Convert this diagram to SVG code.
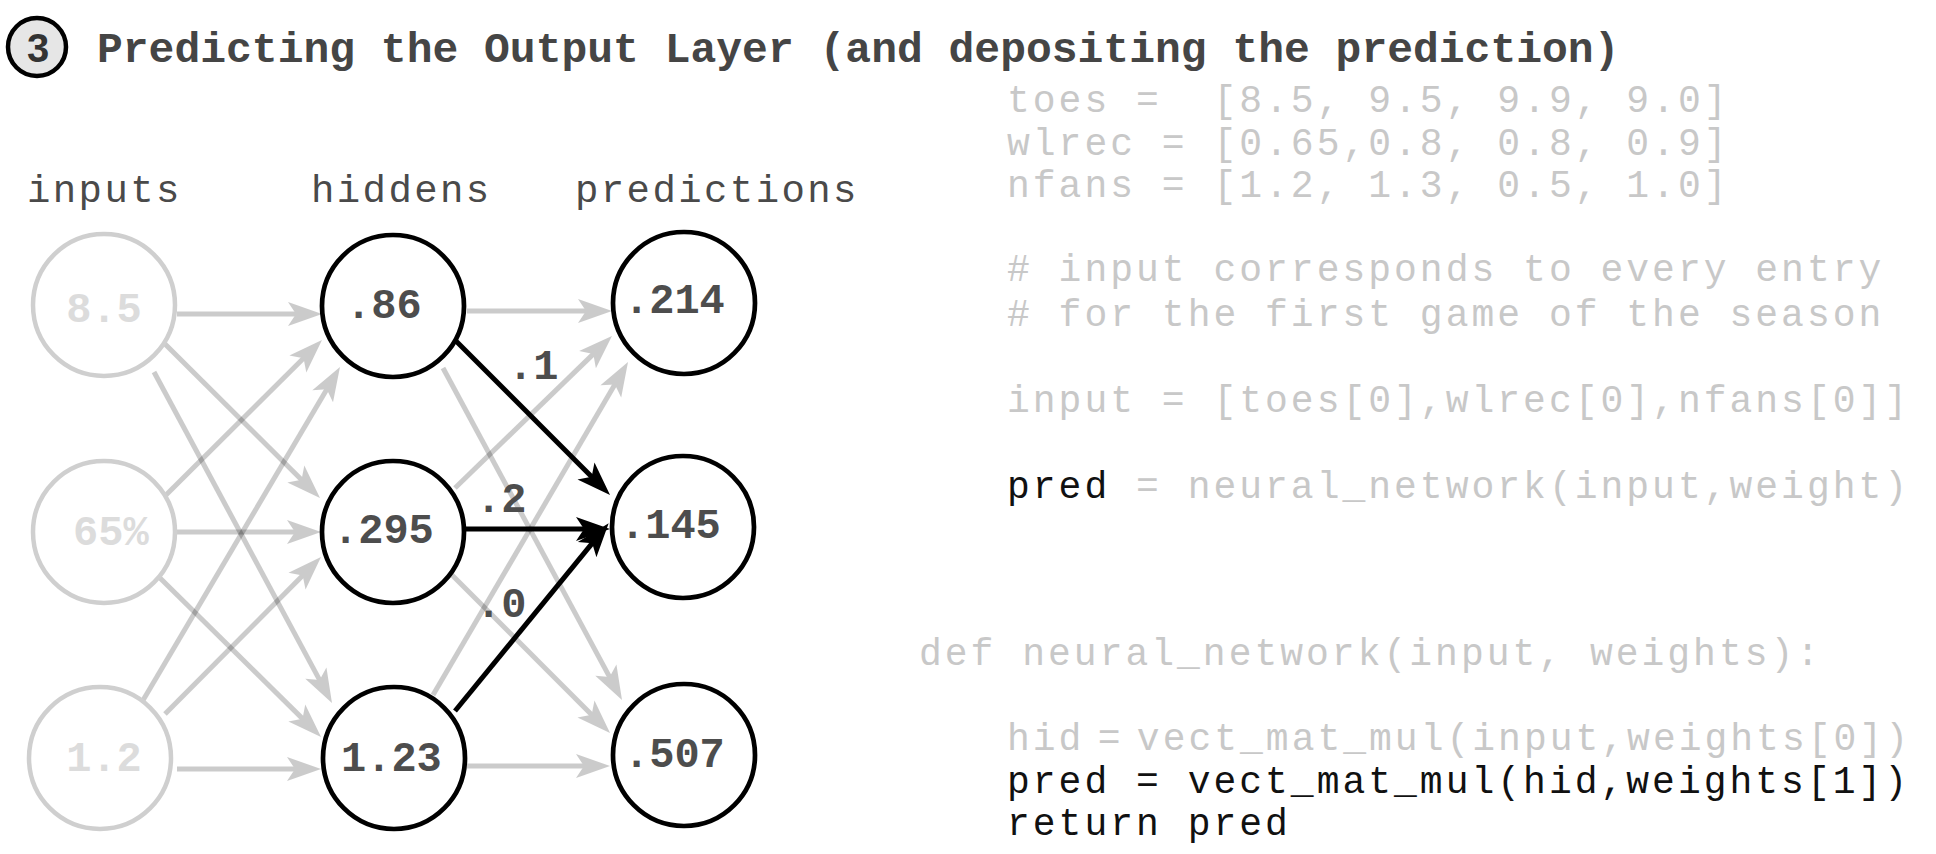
<svg xmlns="http://www.w3.org/2000/svg" width="1936" height="854" viewBox="0 0 1936 854">
<style>
.title{font-family:"Liberation Mono",monospace;font-weight:bold;font-size:43px;fill:#454545}
.lbl{font-family:"Liberation Mono",monospace;font-size:39px;letter-spacing:2.4px;fill:#4a4a4a}
.nv{font-family:"Liberation Mono",monospace;font-weight:bold;font-size:42px;fill:#4d4d4d}
.iv{font-family:"Liberation Mono",monospace;font-weight:bold;font-size:42px;fill:#dcdcdc}
.nc{fill:#fff;stroke:#000;stroke-width:4.7}
.ic{fill:#fff;stroke:#cfcfcf;stroke-width:4.5}
.code{font-family:"Liberation Mono",monospace;font-size:38px;letter-spacing:3px;fill:#c8c8c8}
.tight{word-spacing:-12.5px}
.blk{fill:#111}
.edge{fill:none;stroke:#000;stroke-width:5;marker-end:url(#ah)}
.gray{opacity:0.2}
</style>
<defs>
<marker id="ah" markerUnits="userSpaceOnUse" markerWidth="40" markerHeight="30" viewBox="-36 -15 40 30" refX="-20" refY="0" orient="auto" overflow="visible">
<path d="M0,0 L-34,-12 L-26,0 L-34,12 Z" fill="#000"/>
</marker>
</defs>

<g id="header">
<circle cx="37" cy="47" r="29" fill="#e6e6e6" stroke="#000" stroke-width="4.5"/>
<text x="38" y="62" text-anchor="middle" style="font-family:'Liberation Sans',sans-serif;font-weight:bold;font-size:40px;fill:#333">3</text>
<text class="title" x="97" y="62">Predicting the Output Layer (and depositing the prediction)</text>
</g>

<g id="layer-labels">
<text class="lbl" x="27" y="202">inputs</text>
<text class="lbl" x="311" y="202">hiddens</text>
<text class="lbl" x="575" y="202">predictions</text>
</g>

<g id="connectors">
<g class="gray"><path class="edge" d="M177,314 L302,314"/></g>
<g class="gray"><path class="edge" d="M163,342 L305.8,483.9"/></g>
<g class="gray"><path class="edge" d="M154,372 L322.5,685.4"/></g>
<g class="gray"><path class="edge" d="M166,495 L307.8,354.1"/></g>
<g class="gray"><path class="edge" d="M177,532 L301,532"/></g>
<g class="gray"><path class="edge" d="M160,578 L306.8,722.9"/></g>
<g class="gray"><path class="edge" d="M142,702 L329.8,384.2"/></g>
<g class="gray"><path class="edge" d="M165,714 L306.9,571.2"/></g>
<g class="gray"><path class="edge" d="M177,769 L301,769"/></g>

<g class="gray"><path class="edge" d="M467,311 L592,311"/></g>
<g class="gray"><path class="edge" d="M443,368 L612.5,682.4"/></g>
<g class="gray"><path class="edge" d="M455,488 L597.6,349.9"/></g>
<g class="gray"><path class="edge" d="M452,575 L595.9,718.9"/></g>
<g class="gray"><path class="edge" d="M433,695 L617.9,379.3"/></g>
<g class="gray"><path class="edge" d="M467,766 L590,766"/></g>

<path class="edge" d="M453,338 L595.9,480.9"/>
<path class="edge" d="M465,529 L590,529"/>
<path class="edge" d="M455,711 L596,538.7"/>

<text class="nv" x="508" y="379">.1</text>
<text class="nv" x="476" y="512">.2</text>
<text class="nv" x="476" y="617">.0</text>
</g>

<g id="input-1"><circle class="ic" cx="104" cy="305" r="71"/><text class="iv" x="104" y="322" text-anchor="middle">8.5</text></g>
<g id="input-2"><circle class="ic" cx="104" cy="532" r="71"/><text class="iv" x="73" y="545">65%</text></g>
<g id="input-3"><circle class="ic" cx="100" cy="758" r="71"/><text class="iv" x="104" y="771" text-anchor="middle">1.2</text></g>

<g id="hidden-1"><circle class="nc" cx="393" cy="306" r="71"/><text class="nv" x="346" y="318">.86</text></g>
<g id="hidden-2"><circle class="nc" cx="393" cy="532" r="71"/><text class="nv" x="333" y="543">.295</text></g>
<g id="hidden-3"><circle class="nc" cx="394" cy="758" r="71"/><text class="nv" x="341" y="771">1.23</text></g>

<g id="pred-1"><circle class="nc" cx="684" cy="303" r="71"/><text class="nv" x="624" y="313">.214</text></g>
<g id="pred-2"><circle class="nc" cx="683" cy="527" r="71"/><text class="nv" x="620" y="538">.145</text></g>
<g id="pred-3"><circle class="nc" cx="684" cy="755" r="71"/><text class="nv" x="624" y="767">.507</text></g>

<g id="code">
<text class="code" x="1007" y="112" xml:space="preserve">toes =  [8.5, 9.5, 9.9, 9.0]</text>
<text class="code" x="1007" y="155">wlrec = [0.65,0.8, 0.8, 0.9]</text>
<text class="code" x="1007" y="197">nfans = [1.2, 1.3, 0.5, 1.0]</text>
<text class="code" x="1007" y="281"># input corresponds to every entry</text>
<text class="code" x="1007" y="326"># for the first game of the season</text>
<text class="code" x="1007" y="412">input = [toes[0],wlrec[0],nfans[0]]</text>
<text class="code" x="1007" y="498"><tspan class="blk">pred</tspan> = neural_network(input,weight)</text>
<text class="code" x="919" y="665">def neural_network(input, weights):</text>
<text class="code tight" x="1007" y="750">hid = vect_mat_mul(input,weights[0])</text>
<text class="code blk" x="1007" y="793">pred = vect_mat_mul(hid,weights[1])</text>
<text class="code blk" x="1007" y="835">return pred</text>
</g>
</svg>
